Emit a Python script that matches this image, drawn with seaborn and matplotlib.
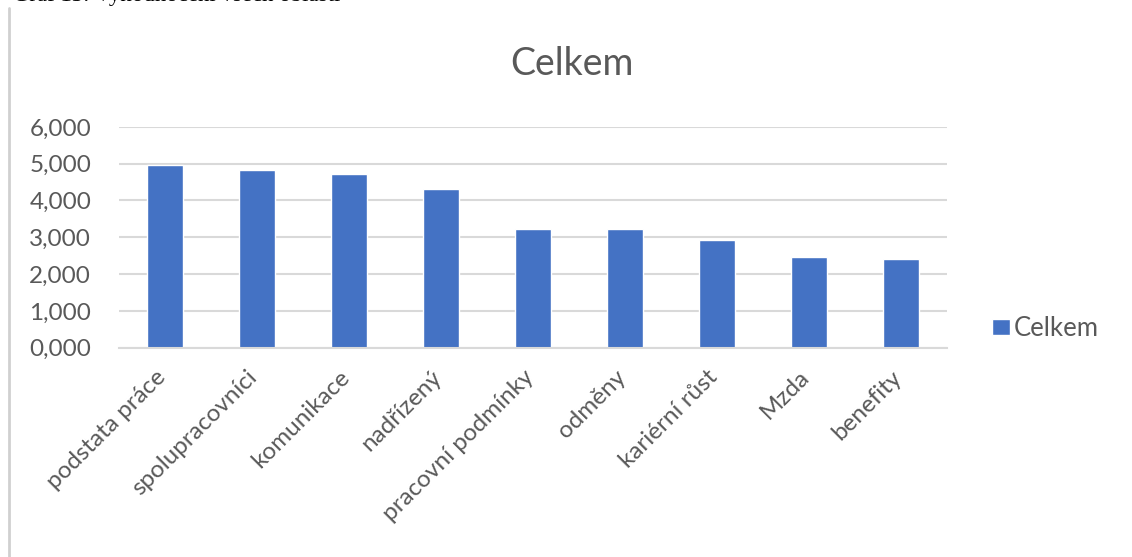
import matplotlib
matplotlib.use("Agg")
import matplotlib.pyplot as plt
import matplotlib.transforms as mtransforms
import seaborn as sns
import pandas as pd
from matplotlib.ticker import FuncFormatter

categories = ["podstata práce", "spolupracovníci", "komunikace", "nadřízený",
              "pracovní podmínky", "odměny", "kariérní růst", "Mzda", "benefity"]
values = [4.97, 4.84, 4.71, 4.32, 3.23, 3.23, 2.92, 2.46, 2.40]
series_name = "Celkem"
chart_title = "Celkem"
caption = "Graf 13: Vyhodnocení všech oblastí"

df = pd.DataFrame({"kategorie": categories, "hodnota": values})

sns.set_theme(style="white")
plt.rcParams["font.family"] = ["Lato", "DejaVu Sans"]

fig = plt.figure(figsize=(11.32, 5.57), dpi=100)
ax = fig.add_axes([0.1051, 0.3758, 0.7315, 0.3964])

sns.barplot(data=df, x="kategorie", y="hodnota", color="#4472C4", width=0.4,
            saturation=1, ax=ax, label=series_name)

ax.set_ylim(0, 6)
ax.set_yticks(range(0, 7))
ax.yaxis.set_major_formatter(FuncFormatter(lambda v, p: f"{v:.3f}".replace(".", ",")))
ax.grid(axis="y", color="#d9d9d9", linewidth=1.5)
ax.set_axisbelow(True)
for s in ["top", "right", "left"]:
    ax.spines[s].set_visible(False)
ax.spines["bottom"].set_color("#d9d9d9")
ax.spines["bottom"].set_linewidth(1.5)
ax.tick_params(axis="y", length=0, colors="#595959", labelsize=17.5, pad=20)
ax.tick_params(axis="x", length=0, colors="#595959", labelsize=17.5, pad=19)
ax.set_xlabel("")
ax.set_ylabel("")
offset = mtransforms.ScaledTranslation(-3 / 100, 0, fig.dpi_scale_trans)
for lbl in ax.get_xticklabels():
    lbl.set_rotation(45)
    lbl.set_ha("right")
    lbl.set_va("center")
    lbl.set_rotation_mode("anchor")
    lbl.set_transform(lbl.get_transform() + offset)

fig.text(0.505, 0.885, chart_title, ha="center", va="center", fontsize=27, color="#595959")

ax.legend(loc="center left", bbox_to_anchor=(0.856, 0.41), bbox_transform=fig.transFigure,
          frameon=False, fontsize=18.5, handlelength=0.7, handleheight=0.6,
          handletextpad=0.15, labelcolor="#595959")

fig.text(13 / 1132, 1 - 1.2 / 557, caption, ha="left", va="baseline", fontsize=16.5,
         family=["Liberation Serif"], color="black")
fig.add_artist(plt.Line2D([9 / 1132, 9 / 1132], [0, 1 - 8 / 557], transform=fig.transFigure,
                          color="#d0d0d0", linewidth=2))

fig.savefig("out.png", dpi=100)
